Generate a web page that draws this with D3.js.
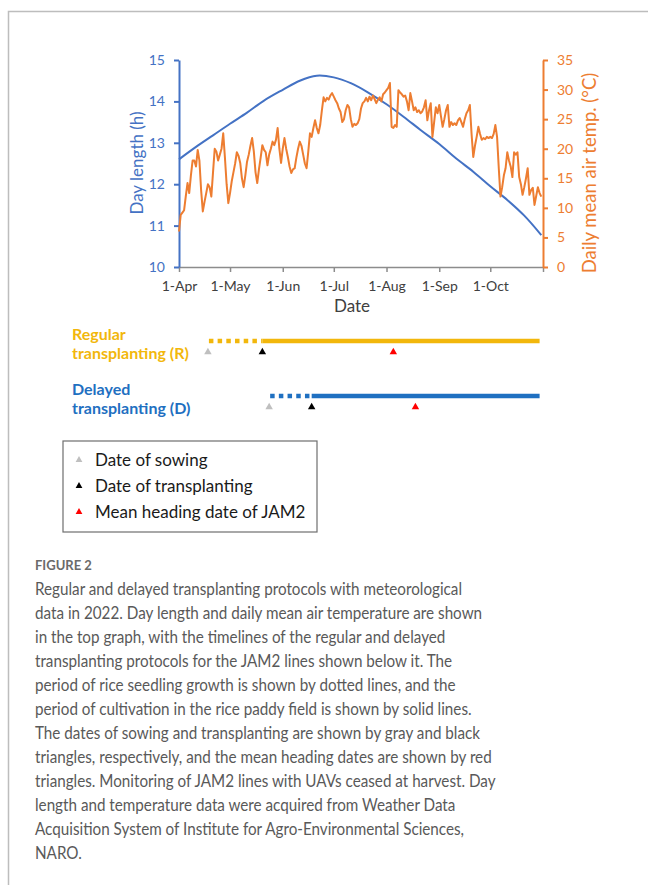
<!DOCTYPE html>
<html>
<head>
<meta charset="utf-8">
<script src="https://cdn.jsdelivr.net/npm/d3@7"></script>
<style>
body { margin: 0; background: #fff; }
svg { display: block; }
</style>
</head>
<body>
<svg id="fig"></svg>
<script>
// ---- data ----
var monthTicks = ["2022-04-01", "2022-05-01", "2022-06-01", "2022-07-01", "2022-08-01", "2022-09-01", "2022-10-01", "2022-11-01"];
var tempStart = "2022-04-01";
// daily mean air temperature (deg C), one value per day, month by month
var tempApr = [6.0, 8.8, 9.2, 9.6, 12.0, 14.2, 12.5, 15.5, 18.0, 18.0, 17.0, 19.8, 18.0, 13.0, 9.4, 11.0, 12.5, 14.0, 13.5, 11.9, 16.0, 20.0, 19.5, 18.0, 19.0, 20.0, 22.6, 18.5, 14.0, 10.8];
var tempMay = [12.5, 14.5, 16.0, 17.5, 19.4, 18.8, 17.6, 15.0, 13.5, 15.5, 17.8, 19.0, 20.5, 21.8, 19.5, 16.0, 14.2, 16.5, 18.5, 20.6, 19.8, 19.4, 17.2, 19.0, 20.0, 21.2, 20.6, 21.5, 23.5, 20.0, 17.6];
var tempJun = [20.0, 21.8, 20.0, 18.6, 17.0, 15.9, 16.5, 16.7, 18.5, 20.0, 21.2, 20.5, 19.0, 17.5, 16.7, 19.5, 22.6, 22.0, 23.5, 24.8, 23.5, 22.6, 24.0, 26.5, 28.7, 28.0, 28.6, 28.3, 29.0, 29.4];
var tempJul = [28.8, 28.2, 27.7, 26.8, 26.2, 24.5, 25.0, 26.5, 27.4, 27.0, 25.0, 23.7, 24.2, 24.0, 24.3, 25.0, 26.8, 27.7, 28.0, 28.6, 28.0, 28.8, 28.2, 29.0, 28.4, 27.7, 28.3, 28.7, 28.0, 29.2, 29.5];
var tempAug = [29.9, 30.3, 31.1, 23.7, 23.5, 24.0, 23.7, 29.9, 29.5, 29.2, 28.8, 29.0, 28.0, 26.5, 29.4, 28.0, 26.5, 27.0, 26.2, 26.5, 26.0, 26.3, 27.0, 28.2, 24.8, 26.5, 27.7, 22.0, 24.5, 27.0, 26.0];
var tempSep = [27.4, 25.5, 23.7, 25.0, 26.5, 27.4, 23.7, 24.5, 24.0, 24.3, 24.0, 24.8, 25.2, 24.5, 23.7, 25.0, 26.0, 26.5, 27.4, 22.5, 18.6, 20.5, 22.0, 23.7, 22.5, 21.5, 21.8, 21.6, 22.0, 21.8];
var tempOct = [22.0, 21.8, 22.5, 24.0, 22.0, 16.7, 11.9, 13.5, 15.5, 16.7, 19.4, 18.0, 17.0, 15.2, 19.4, 19.0, 19.4, 15.2, 14.0, 12.2, 13.5, 15.0, 16.7, 12.2, 13.0, 13.4, 10.5, 12.0, 13.5, 12.5, 11.9];
// day length (h), read every ten days
var dayLenDates = ["2022-04-01", "2022-04-11", "2022-04-21", "2022-05-01", "2022-05-11", "2022-05-21", "2022-06-01", "2022-06-11", "2022-06-21",
    "2022-07-01", "2022-07-11", "2022-07-21", "2022-08-01", "2022-08-11", "2022-08-21", "2022-09-01", "2022-09-11", "2022-09-21",
    "2022-10-01", "2022-10-11", "2022-10-21", "2022-10-31"];
var dayLenValues = [12.60, 12.90, 13.18, 13.46, 13.73, 14.02, 14.28, 14.50, 14.62,
    14.58, 14.44, 14.22, 13.93, 13.63, 13.31, 12.97, 12.62, 12.30,
    11.95, 11.62, 11.24, 10.77];

// transplanting protocols
var protocolLabels = [["Regular", "transplanting (R)"], ["Delayed", "transplanting (D)"]];
var protocolColors = ["#F2B70C", "#1F70C1"];
var sowingDates = ["2022-04-18", "2022-05-24"];
var transplantDates = ["2022-05-20", "2022-06-18"];
var headingDates = ["2022-08-05", "2022-08-18"];
var harvestDates = ["2022-10-30", "2022-10-30"];

var legendLabels = ["Date of sowing", "Date of transplanting", "Mean heading date of JAM2"];
var legendColors = ["#BFBFBF", "#000000", "#FF0000"];

var captionTitle = "FIGURE 2";
var captionLines = [
    "Regular and delayed transplanting protocols with meteorological",
    "data in 2022. Day length and daily mean air temperature are shown",
    "in the top graph, with the timelines of the regular and delayed",
    "transplanting protocols for the JAM2 lines shown below it. The",
    "period of rice seedling growth is shown by dotted lines, and the",
    "period of cultivation in the rice paddy field is shown by solid lines.",
    "The dates of sowing and transplanting are shown by gray and black",
    "triangles, respectively, and the mean heading dates are shown by red",
    "triangles. Monitoring of JAM2 lines with UAVs ceased at harvest. Day",
    "length and temperature data were acquired from Weather Data",
    "Acquisition System of Institute for Agro-Environmental Sciences,",
    "NARO."
];

// ---- drawing ----
var width = 648, height = 885;
var blue = "#4472C4", orange = "#ED7D31";
var chartFont = "Lato, 'Open Sans', sans-serif";
var parse = d3.utcParse("%Y-%m-%d");

var svg = d3.select("#fig").attr("width", width).attr("height", height)
    .style("font-family", chartFont);

// frame of the figure panel
svg.append("path")
    .attr("d", "M8.5," + height + "V11.5H" + width)
    .attr("fill", "none").attr("stroke", "#BDBDBD").attr("stroke-width", 1.5);

var plot = { left: 179, right: 543, top: 60, bottom: 267 };

var x = d3.scaleUtc()
    .domain([parse(monthTicks[0]), parse(monthTicks[monthTicks.length - 1])])
    .range([plot.left, plot.right]);
var yDay = d3.scaleLinear().domain([10, 15]).range([plot.bottom, plot.top]);
var yTemp = d3.scaleLinear().domain([0, 35]).range([plot.bottom, plot.top]);

var temps = [].concat(tempApr, tempMay, tempJun, tempJul, tempAug, tempSep, tempOct);
var t0 = parse(tempStart);
var tempData = temps.map(function (v, i) { return { date: d3.utcDay.offset(t0, i), value: v }; });
var dayData = dayLenDates.map(function (d, i) { return { date: parse(d), value: dayLenValues[i] }; });

// bottom axis
var xAxis = svg.append("g")
    .attr("transform", "translate(0," + plot.bottom + ")")
    .call(d3.axisBottom(x)
        .tickValues(monthTicks.map(parse))
        .tickFormat(function (d, i) { return i < monthTicks.length - 1 ? d3.utcFormat("%-d-%b")(d) : ""; })
        .tickSize(5).tickSizeOuter(0).tickPadding(9));
xAxis.select(".domain").attr("stroke", "#8C8C8C").attr("stroke-width", 1.5);
xAxis.selectAll(".tick line").attr("stroke", "#8C8C8C").attr("stroke-width", 1.5);
xAxis.selectAll("text").attr("fill", "#404040").style("font-size", "14px").style("font-family", chartFont);

// left axis (day length)
var lAxis = svg.append("g")
    .attr("transform", "translate(" + plot.left + ",0)")
    .call(d3.axisLeft(yDay).ticks(5).tickSize(5).tickSizeOuter(0).tickPadding(9));
lAxis.select(".domain").attr("stroke", blue).attr("stroke-width", 2);
lAxis.selectAll(".tick line").attr("stroke", blue).attr("stroke-width", 2);
lAxis.selectAll("text").attr("fill", blue).style("font-size", "14px").style("font-family", chartFont);

// right axis (temperature)
var rAxis = svg.append("g")
    .attr("transform", "translate(" + plot.right + ",0)")
    .call(d3.axisRight(yTemp).ticks(7).tickSize(5).tickSizeOuter(0).tickPadding(9));
rAxis.select(".domain").attr("stroke", orange).attr("stroke-width", 2);
rAxis.selectAll(".tick line").attr("stroke", orange).attr("stroke-width", 2);
rAxis.selectAll("text").attr("fill", orange).style("font-size", "14px").style("font-family", chartFont);

// axis titles
svg.append("text")
    .attr("transform", "translate(143,163) rotate(-90)")
    .attr("text-anchor", "middle").attr("fill", blue)
    .style("font-size", "17px").text("Day length (h)");
svg.append("text")
    .attr("transform", "translate(596,173) rotate(-90)")
    .attr("text-anchor", "middle").attr("fill", orange)
    .style("font-size", "18.5px").text("Daily mean air temp. (°C)");
svg.append("text")
    .attr("x", 352).attr("y", 312)
    .attr("text-anchor", "middle").attr("fill", "#404040")
    .style("font-size", "17px").text("Date");

// series
var dayLine = d3.line().x(function (d) { return x(d.date); }).y(function (d) { return yDay(d.value); })
    .curve(d3.curveCatmullRom);
var tempLine = d3.line().x(function (d) { return x(d.date); }).y(function (d) { return yTemp(d.value); });

svg.append("path").datum(dayData)
    .attr("d", dayLine).attr("fill", "none")
    .attr("stroke", blue).attr("stroke-width", 2);
svg.append("path").datum(tempData)
    .attr("d", tempLine).attr("fill", "none")
    .attr("stroke", orange).attr("stroke-width", 2).attr("stroke-linejoin", "round");

// timelines
var rowLineY = [341, 396];
var tri = d3.symbol().type(d3.symbolTriangle).size(24);

protocolLabels.forEach(function (lab, i) {
    var c = protocolColors[i];
    var ly = rowLineY[i];
    var row = svg.append("g");

    row.append("text").attr("x", 72).attr("y", ly - 1)
        .attr("fill", c).style("font-size", "16px").style("font-weight", "700").text(lab[0]);
    row.append("text").attr("x", 72).attr("y", ly + 18)
        .attr("fill", c).style("font-size", "16px").style("font-weight", "700").text(lab[1]);

    row.append("line")
        .attr("x1", x(parse(sowingDates[i])) + 1).attr("x2", x(parse(transplantDates[i])))
        .attr("y1", ly).attr("y2", ly)
        .attr("stroke", c).attr("stroke-width", 4.5).attr("stroke-dasharray", "4.5,4.2");
    row.append("line")
        .attr("x1", x(parse(transplantDates[i]))).attr("x2", x(parse(harvestDates[i])))
        .attr("y1", ly).attr("y2", ly)
        .attr("stroke", c).attr("stroke-width", 4.5);

    var marks = [sowingDates[i], transplantDates[i], headingDates[i]];
    marks.forEach(function (d, k) {
        row.append("path").attr("d", tri)
            .attr("transform", "translate(" + x(parse(d)) + "," + (ly + 11) + ")")
            .attr("fill", legendColors[k]);
    });
});

// legend
var legend = svg.append("g");
legend.append("rect")
    .attr("x", 63).attr("y", 441).attr("width", 254).attr("height", 91)
    .attr("fill", "#fff").attr("stroke", "#6E6E6E").attr("stroke-width", 1.2);
legendLabels.forEach(function (lab, i) {
    var cy = 460 + i * 26;
    legend.append("path").attr("d", d3.symbol().type(d3.symbolTriangle).size(20))
        .attr("transform", "translate(79," + cy + ")")
        .attr("fill", legendColors[i]);
    legend.append("text").attr("x", 95).attr("y", cy + 6)
        .attr("fill", "#1A1A1A").style("font-size", "17px").text(lab);
});

// caption
svg.append("text")
    .attr("x", 35).attr("y", 570)
    .attr("fill", "#6A6A6A").style("font-size", "13px").style("font-weight", "700")
    .text(captionTitle);

var cap = svg.append("g");
var capText = cap.selectAll("text").data(captionLines).enter().append("text")
    .attr("x", 0).attr("y", function (d, i) { return 595.5 + i * 24; })
    .attr("fill", "#595959").style("font-size", "17.5px")
    .text(function (d) { return d; });
var widest = d3.max(capText.nodes(), function (n) { return n.getComputedTextLength(); });
cap.attr("transform", "translate(35,0) scale(" + (461 / widest) + ",1)");
</script>
</body>
</html>
